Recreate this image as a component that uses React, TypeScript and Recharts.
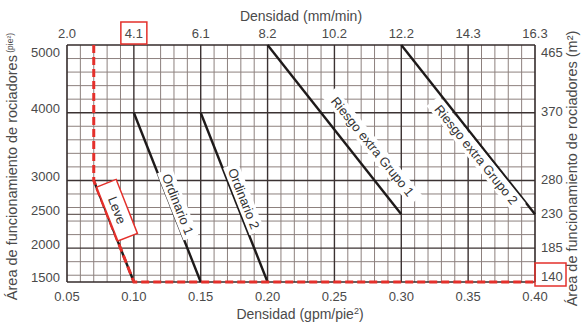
import { Label, Line, LineChart, ReferenceDot, ReferenceLine, XAxis, YAxis } from "recharts";

// densidad (gpm/pie²) en el eje inferior, mm/min en el superior
const densityTicks = [0.05, 0.1, 0.15, 0.2, 0.25, 0.3, 0.35, 0.4];
const densityLabels = ["0.05", "0.10", "0.15", "0.20", "0.25", "0.30", "0.35", "0.40"];
const mmMinLabels = ["2.0", "4.1", "6.1", "8.2", "10.2", "12.2", "14.3", "16.3"];

// área (pie²) a la izquierda, m² a la derecha
const areaTicks = [1500, 2000, 2500, 3000, 4000, 5000];
const m2Labels = ["140", "185", "230", "280", "370", "465"];

// curvas de diseño
const leve = [{ d: 0.07, a: 3000 }, { d: 0.1, a: 1500 }];
const ordinario1 = [{ d: 0.1, a: 4000 }, { d: 0.15, a: 1500 }];
const ordinario2 = [{ d: 0.15, a: 4000 }, { d: 0.2, a: 1500 }];
const extra1 = [{ d: 0.2, a: 5000 }, { d: 0.3, a: 2500 }];
const extra2 = [{ d: 0.3, a: 5000 }, { d: 0.4, a: 2500 }];
const seleccion = [
    { d: 0.07, a: 5000 },
    { d: 0.07, a: 3000 },
    { d: 0.1, a: 1500 },
    { d: 0.4, a: 1500 },
];

// retícula
const minorX = Array.from({ length: 34 }, (_, i) => +(0.06 + i * 0.01).toFixed(2)).filter(
    (v) => Math.round(v * 100) % 5 !== 0
);
const majorX = [0.1, 0.15, 0.2, 0.25, 0.3, 0.35];
const minorY = Array.from({ length: 17 }, (_, i) => 1600 + i * 200).filter((v) => v % 1000 !== 0);
const majorY = [2000, 3000, 4000];
const frameX = [0.05, 0.4];
const frameY = [1500, 5000];

const FONT = '"Liberation Sans", Arial, sans-serif';
const TEXT = "#4a4a4a";
const RED = "#e4302b";
const DARK = "#342b2b";

const curveLabels = [
    { text: "Leve", d: 0.0874, a: 2560, angle: 68.5, w: 58, boxed: true },
    { text: "Ordinario 1", d: 0.1328, a: 2650, angle: 68.4, w: 72, boxed: false },
    { text: "Ordinario 2", d: 0.1822, a: 2730, angle: 68.4, w: 72, boxed: false },
    { text: "Riesgo extra Grupo 1", d: 0.2785, a: 3500, angle: 51, w: 138, boxed: false },
    { text: "Riesgo extra Grupo 2", d: 0.356, a: 3380, angle: 51, w: 138, boxed: false },
];

function BottomTick({ x, y, index }: any) {
    return (
        <text x={x} y={y + 18.5} textAnchor="middle" fill={TEXT} fontSize={13} fontFamily={FONT}>
            {densityLabels[index]}
        </text>
    );
}

function TopTick({ x, y, index }: any) {
    return (
        <g>
            {index === 1 && <rect x={x - 13} y={y - 23} width={26} height={22} fill="none" stroke={RED} strokeWidth={1.5} />}
            <text x={x} y={y - 7} textAnchor="middle" fill={TEXT} fontSize={13} fontFamily={FONT}>
                {mmMinLabels[index]}
            </text>
        </g>
    );
}

function LeftTick({ x, y, payload }: any) {
    const v = payload.value;
    const dy = v === 5000 ? 11.5 : v === 1500 ? -0.5 : 0.5;
    return (
        <text x={x - 7} y={y + dy} textAnchor="end" fill={TEXT} fontSize={13} fontFamily={FONT}>
            {v}
        </text>
    );
}

function RightTick({ x, y, payload }: any) {
    const v = payload.value;
    const i = areaTicks.indexOf(v);
    const dy = v === 5000 ? 11.5 : v === 1500 ? -1.5 : 3.5;
    return (
        <g>
            {v === 1500 && <rect x={x} y={y - 19} width={31} height={23} fill="none" stroke={RED} strokeWidth={1.5} />}
            <text x={x + 6} y={y + dy} fill={TEXT} fontSize={13} fontFamily={FONT}>
                {m2Labels[i]}
            </text>
        </g>
    );
}

function curveLabelShape(text: string, angle: number, w: number, boxed: boolean) {
    return ({ cx, cy }: any) => (
        <g transform={`translate(${cx},${cy}) rotate(${angle})`}>
            <rect
                x={-w / 2}
                y={boxed ? -10.5 : -8}
                width={w}
                height={boxed ? 21 : 16}
                fill="#fff"
                stroke={boxed ? RED : "none"}
                strokeWidth={1.5}
            />
            <text textAnchor="middle" y={4.5} fill="#333" fontSize={13} fontFamily={FONT}>
                {text}
            </text>
        </g>
    );
}

function App() {
    return (
        <div style={{ position: "absolute", left: 0, top: 0, width: 584, height: 324, background: "#fff" }}>
            <LineChart width={584} height={324} margin={{ top: 0, right: 0, bottom: 0, left: 0 }}>
                <XAxis
                    dataKey="d"
                    type="number"
                    domain={[0.05, 0.4]}
                    ticks={densityTicks}
                    height={42}
                    tickSize={0}
                    tickMargin={0}
                    tickLine={false}
                    axisLine={false}
                    tick={<BottomTick />}
                    interval={0}
                >
                    <Label
                        content={({ viewBox }: any) => (
                            <text
                                x={viewBox.x + viewBox.width / 2 - 1}
                                y={viewBox.y + 37}
                                textAnchor="middle"
                                fill={TEXT}
                                fontSize={14}
                                fontFamily={FONT}
                            >
                                Densidad (gpm/pie
                                <tspan fontSize={9} dy={-5}>2</tspan>
                                <tspan dy={5}>)</tspan>
                            </text>
                        )}
                    />
                </XAxis>
                <XAxis
                    xAxisId="top"
                    dataKey="d"
                    orientation="top"
                    type="number"
                    domain={[0.05, 0.4]}
                    ticks={densityTicks}
                    height={45}
                    tickSize={0}
                    tickMargin={0}
                    tickLine={false}
                    axisLine={false}
                    tick={<TopTick />}
                    interval={0}
                >
                    <Label
                        content={({ viewBox }: any) => (
                            <text
                                x={viewBox.x + viewBox.width / 2}
                                y={viewBox.y + 21}
                                textAnchor="middle"
                                fill={TEXT}
                                fontSize={14}
                                fontFamily={FONT}
                            >
                                Densidad (mm/min)
                            </text>
                        )}
                    />
                </XAxis>
                <YAxis
                    type="number"
                    domain={[1500, 5000]}
                    ticks={areaTicks}
                    width={67}
                    tickSize={0}
                    tickMargin={0}
                    tickLine={false}
                    axisLine={false}
                    tick={<LeftTick />}
                    interval={0}
                >
                    <Label
                        content={({ viewBox }: any) => {
                            const cx = 17;
                            const cy = viewBox.y + viewBox.height / 2 + 3;
                            return (
                                <text
                                    transform={`translate(${cx},${cy}) rotate(-90)`}
                                    textAnchor="middle"
                                    fill={TEXT}
                                    fontSize={14.5}
                                    fontFamily={FONT}
                                >
                                    Área de funcionamiento de rociadores
                                    <tspan fontSize={8.5} dy={-4}> (pie²)</tspan>
                                </text>
                            );
                        }}
                    />
                </YAxis>
                <YAxis
                    yAxisId="right"
                    orientation="right"
                    type="number"
                    domain={[1500, 5000]}
                    ticks={areaTicks}
                    width={49}
                    tickSize={0}
                    tickMargin={0}
                    tickLine={false}
                    axisLine={false}
                    tick={<RightTick />}
                    interval={0}
                >
                    <Label
                        content={({ viewBox }: any) => {
                            const cx = 577;
                            const cy = viewBox.y + viewBox.height / 2 + 5;
                            return (
                                <text
                                    transform={`translate(${cx},${cy}) rotate(-90)`}
                                    textAnchor="middle"
                                    fill={TEXT}
                                    fontSize={14.5}
                                    fontFamily={FONT}
                                >
                                    Área de funcionamiento de rociadores (m²)
                                </text>
                            );
                        }}
                    />
                </YAxis>

                {minorX.map((v) => (
                    <ReferenceLine key={`mx${v}`} x={v} stroke="#8d817e" strokeWidth={1} />
                ))}
                {minorY.map((v) => (
                    <ReferenceLine key={`my${v}`} y={v} stroke="#8d817e" strokeWidth={1} />
                ))}
                <ReferenceLine y={2500} stroke="#6f6462" strokeWidth={1.2} />
                {majorX.map((v) => (
                    <ReferenceLine key={`Mx${v}`} x={v} stroke="#3b3232" strokeWidth={1.4} />
                ))}
                {majorY.map((v) => (
                    <ReferenceLine key={`My${v}`} y={v} stroke="#3b3232" strokeWidth={1.4} />
                ))}
                {frameX.map((v) => (
                    <ReferenceLine key={`Fx${v}`} x={v} stroke={DARK} strokeWidth={1.6} />
                ))}
                {frameY.map((v) => (
                    <ReferenceLine key={`Fy${v}`} y={v} stroke={DARK} strokeWidth={1.6} />
                ))}

                {[leve, ordinario1, ordinario2, extra1, extra2].map((data, i) => (
                    <Line
                        key={i}
                        data={data}
                        dataKey="a"
                        type="linear"
                        stroke="#1e1a1a"
                        strokeWidth={2.4}
                        dot={false}
                        isAnimationActive={false}
                    />
                ))}

                {curveLabels.map((l) => (
                    <ReferenceDot
                        key={l.text}
                        x={l.d}
                        y={l.a}
                        r={0}
                        shape={curveLabelShape(l.text, l.angle, l.w, l.boxed)}
                    />
                ))}

                {/* mismo dominio que los ejes principales; así los ejes superior y derecho tienen serie */}
                <Line
                    xAxisId="top"
                    yAxisId="right"
                    data={seleccion}
                    dataKey="a"
                    type="linear"
                    stroke={RED}
                    strokeWidth={3}
                    strokeDasharray="8 4"
                    dot={false}
                    isAnimationActive={false}
                />
            </LineChart>
        </div>
    );
}

export default App;
